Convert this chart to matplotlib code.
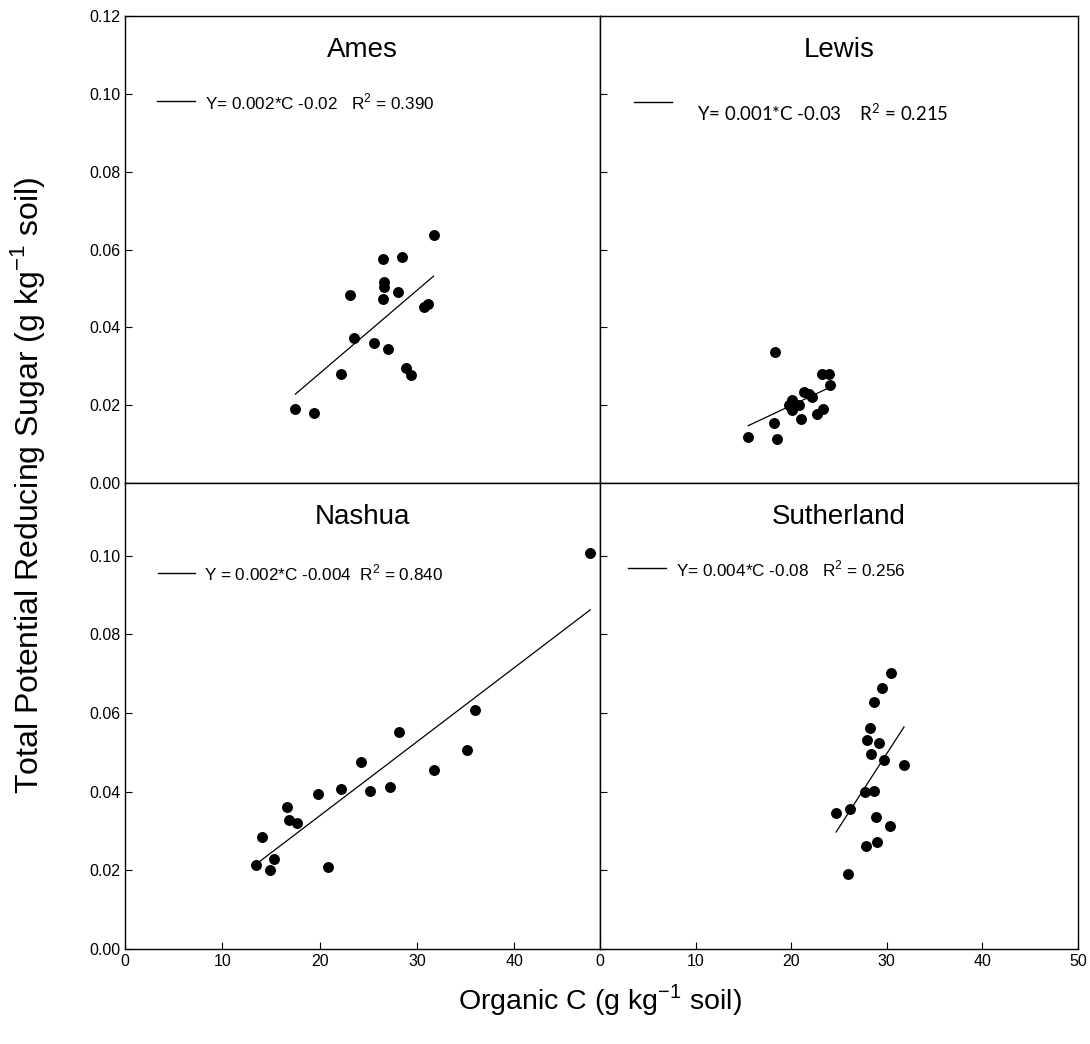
import numpy as np
import matplotlib.pyplot as plt

plt.rcParams['font.family'] = ['Liberation Sans', 'DejaVu Sans']

# Organic C (g kg-1 soil) vs total potential reducing sugar (g kg-1 soil)
ames_c = [31.7, 28.5, 26.5, 26.6, 26.6, 23.1, 28.0, 26.5, 31.1, 30.7,
          23.5, 25.6, 27.0, 22.2, 28.9, 29.4, 17.5, 19.4]
ames_sugar = [0.0637, 0.0582, 0.0575, 0.0517, 0.0504, 0.0484, 0.0490, 0.0472, 0.0461, 0.0453,
              0.0373, 0.0361, 0.0345, 0.0281, 0.0296, 0.0278, 0.0190, 0.0180]

lewis_c = [24.1, 21.3, 21.9, 22.2, 20.1, 19.8, 20.8, 20.1, 23.3, 22.7,
           21.0, 18.2, 15.5, 18.5, 23.2, 24.0, 18.3]
lewis_sugar = [0.0253, 0.0235, 0.0229, 0.0222, 0.0212, 0.0201, 0.0201, 0.0188, 0.0190, 0.0178,
               0.0165, 0.0155, 0.0119, 0.0114, 0.0280, 0.0280, 0.0336]

nashua_c = [47.8, 36.0, 28.2, 35.1, 24.2, 31.7, 22.2, 19.8, 25.2, 27.2,
            16.6, 16.9, 17.7, 14.1, 15.3, 13.5, 14.9, 20.9]
nashua_sugar = [0.1006, 0.0609, 0.0551, 0.0506, 0.0476, 0.0456, 0.0406, 0.0395, 0.0402, 0.0411,
                0.0360, 0.0327, 0.0321, 0.0285, 0.0230, 0.0213, 0.0202, 0.0209]

suth_c = [30.4, 29.5, 28.7, 28.2, 27.95, 29.2, 28.3, 29.7, 31.8, 27.7,
          28.7, 26.2, 24.7, 28.9, 25.9, 27.8, 29.0, 30.3]
suth_sugar = [0.0702, 0.0663, 0.0627, 0.0563, 0.0531, 0.0524, 0.0495, 0.0480, 0.0467, 0.0400,
              0.0402, 0.0357, 0.0345, 0.0336, 0.0190, 0.0261, 0.0272, 0.0312]

sites = ['Ames', 'Lewis', 'Nashua', 'Sutherland']
equations = ['Y= 0.002*C -0.02   R$^{\\mathregular{2}}$ = 0.390',
             'Y= 0.001*C -0.03    R$^{\\mathregular{2}}$ = 0.215',
             'Y = 0.002*C -0.004  R$^{\\mathregular{2}}$ = 0.840',
             'Y= 0.004*C -0.08   R$^{\\mathregular{2}}$ = 0.256']

fig = plt.figure(figsize=(10.9, 10.44), dpi=100)

W, H = 1090, 1044
ax_ames = fig.add_axes([125 / W, 1 - 483 / H, 475 / W, 467 / H])
ax_lewis = fig.add_axes([600 / W, 1 - 483 / H, 478 / W, 467 / H])
ax_nashua = fig.add_axes([125 / W, 1 - 949 / H, 475 / W, 466 / H])
ax_suth = fig.add_axes([600 / W, 1 - 949 / H, 478 / W, 466 / H])

panels = [
    (ax_ames, ames_c, ames_sugar),
    (ax_lewis, lewis_c, lewis_sugar),
    (ax_nashua, nashua_c, nashua_sugar),
    (ax_suth, suth_c, suth_sugar),
]

# legend line / text placement in axes fraction
leg_pos = [(0.067, 0.147, 0.818, 0.168, 0.815),
           (0.071, 0.151, 0.816, 0.203, 0.792),
           (0.069, 0.147, 0.807, 0.166, 0.807),
           (0.059, 0.138, 0.818, 0.159, 0.816)]

for i, (ax, c, s) in enumerate(panels):
    c = np.array(c)
    s = np.array(s)
    ax.scatter(c, s, s=62, color='black', zorder=3, linewidths=0)
    slope, icpt = np.polyfit(c, s, 1)
    xx = np.array([c.min(), c.max()])
    ax.plot(xx, slope * xx + icpt, color='black', lw=0.9)

    ax.set_title(sites[i], fontsize=20, y=0.895)
    x0, x1, ly, tx, ty = leg_pos[i]
    ax.plot([x0, x1], [ly, ly], color='black', lw=1, transform=ax.transAxes)
    if sites[i] == 'Lewis':
        ax.text(tx, ty, equations[i], transform=ax.transAxes, fontsize=13.4,
                va='center', family=['Lato', 'DejaVu Sans'])
    else:
        ax.text(tx, ty, equations[i], transform=ax.transAxes, fontsize=12.3, va='center')

    for sp in ax.spines.values():
        sp.set_linewidth(1.0)
    ax.tick_params(direction='in', length=5, labelsize=11.5)

# axis limits and ticks
for ax in (ax_ames, ax_nashua):
    ax.set_xlim(0, 48.8)
for ax in (ax_lewis, ax_suth):
    ax.set_xlim(0, 50)
for ax in (ax_ames, ax_lewis):
    ax.set_ylim(0, 0.12)
    ax.set_yticks(np.arange(0, 0.121, 0.02))
    ax.set_xticks([])
for ax in (ax_nashua, ax_suth):
    ax.set_ylim(0, 0.1185)
    ax.set_yticks(np.arange(0, 0.101, 0.02))

ax_nashua.set_xticks([0, 10, 20, 30, 40])
ax_suth.set_xticks([0, 10, 20, 30, 40, 50])
for ax in (ax_ames, ax_nashua):
    ax.yaxis.set_major_formatter(plt.FormatStrFormatter('%.2f'))
for ax in (ax_lewis, ax_suth):
    ax.tick_params(labelleft=False)

fig.text(28 / W, 1 - 485 / H, 'Total Potential Reducing Sugar (g kg$^{\\mathregular{-1}}$ soil)',
         rotation=90, fontsize=23, ha='center', va='center')
fig.text(600 / W, 1 - 1000 / H, 'Organic C (g kg$^{\\mathregular{-1}}$ soil)',
         fontsize=20.5, ha='center', va='center')

fig.savefig('out.png', dpi=100)
